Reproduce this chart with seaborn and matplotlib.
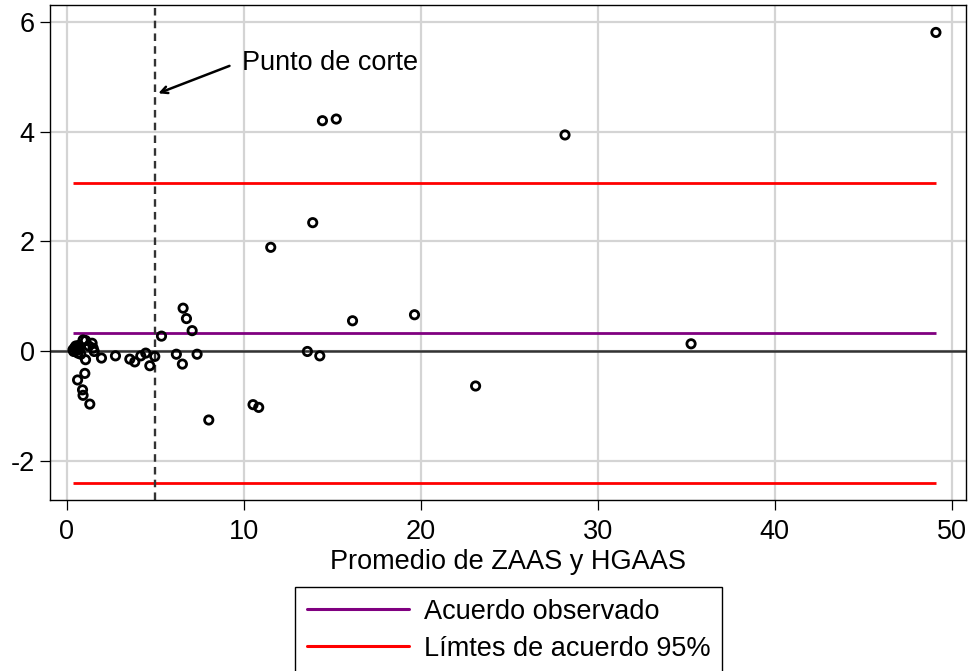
import numpy as np
import pandas as pd
import matplotlib
matplotlib.use("Agg")
import matplotlib.pyplot as plt
import seaborn as sns

# Bland-Altman data: mean of ZAAS and HGAAS vs difference
promedio = [49.10, 28.15, 35.27, 14.45, 15.23, 13.90, 11.53, 16.15, 19.65, 13.60,
            14.30, 23.10, 10.53, 10.85, 8.03, 6.58, 6.77, 7.09, 5.36, 6.20,
            6.54, 7.37, 4.98, 4.70, 4.47, 4.19, 3.85, 3.57, 2.76, 1.97,
            1.56, 1.44, 1.07, 0.93, 1.07, 1.03, 0.62, 0.90, 0.93, 1.31,
            0.36, 0.40, 0.46, 0.52, 0.57, 0.64, 0.72, 0.80, 0.68, 1.25,
            1.50]
diferencia = [5.81, 3.94, 0.13, 4.20, 4.23, 2.34, 1.89, 0.55, 0.66, -0.01,
              -0.09, -0.64, -0.98, -1.03, -1.26, 0.78, 0.59, 0.37, 0.27, -0.06,
              -0.24, -0.06, -0.10, -0.27, -0.04, -0.09, -0.20, -0.15, -0.09, -0.13,
              -0.01, 0.14, 0.19, 0.20, -0.16, -0.41, -0.53, -0.71, -0.81, -0.97,
              0.02, -0.01, 0.06, 0.09, 0.01, -0.04, 0.03, -0.06, 0.10, 0.09,
              0.05]

acuerdo_medio = 0.33
limites = [3.07, -2.41]
punto_corte = 5

x_ticks = [0, 10, 20, 30, 40, 50]
y_ticks = [-2, 0, 2, 4, 6]

df = pd.DataFrame({"promedio": promedio, "diferencia": diferencia})

sns.set_theme(style="white")
plt.rcParams["font.family"] = ["Liberation Sans", "DejaVu Sans"]
plt.rcParams["axes.unicode_minus"] = False
plt.rcParams["text.color"] = "black"
plt.rcParams["axes.labelcolor"] = "black"
plt.rcParams["xtick.color"] = "black"
plt.rcParams["ytick.color"] = "black"

fs = 19.5

fig = plt.figure(figsize=(9.7, 6.71), dpi=100)
ax = fig.add_axes([0.0515, 0.2548, 0.9444, 0.7377])

# grid
for t in x_ticks:
    ax.axvline(t, color="#d4d4d4", lw=1.6, zorder=0)
for t in y_ticks:
    ax.axhline(t, color="#d4d4d4", lw=1.6, zorder=0)

ax.axhline(0, color="#333333", lw=1.8, zorder=1)

xmin, xmax = df["promedio"].min(), df["promedio"].max()
ax.hlines(acuerdo_medio, xmin, xmax, color="#800080", lw=2.0, zorder=2)
ax.hlines(limites, xmin, xmax, color="#ff0000", lw=2.0, zorder=2)

ax.axvline(punto_corte, color="#333333", lw=1.7, ls=(0, (3.2, 2.2)), zorder=2)

sns.scatterplot(data=df, x="promedio", y="diferencia", ax=ax, marker="o",
                s=36, facecolor="none", edgecolor="black", linewidth=2.0,
                zorder=3, legend=False)

ax.annotate("", xy=(5.18, 4.70), xytext=(9.2, 5.2),
            arrowprops=dict(arrowstyle="->", color="black", lw=1.8,
                            shrinkA=0, shrinkB=0))
ax.text(9.89, 5.26, "Punto de corte", fontsize=fs, va="center", ha="left")

ax.set_xlim(-0.94, 50.8)
ax.set_ylim(-2.72, 6.31)
ax.set_xticks(x_ticks)
ax.set_yticks(y_ticks)
ax.tick_params(axis="both", direction="out", length=7, width=0.9,
               color="black", labelsize=fs, pad=4, bottom=True, left=True)
ax.tick_params(axis="x", pad=6.5)
for s in ax.spines.values():
    s.set_color("black")
    s.set_linewidth(1.0)

ax.set_xlabel("Promedio de ZAAS y HGAAS", fontsize=fs, labelpad=3)
ax.set_ylabel("")

h1 = plt.Line2D([], [], color="#800080", lw=2.2)
h2 = plt.Line2D([], [], color="#ff0000", lw=2.2)
leg = fig.legend([h1, h2], ["Acuerdo observado", "Límtes de acuerdo 95%"],
                 loc="upper left", bbox_to_anchor=(0.304, 0.1256),
                 fontsize=fs, frameon=True, fancybox=False, framealpha=1,
                 edgecolor="black", handlelength=3.75, handletextpad=0.55,
                 borderpad=0.45, labelspacing=0.4, borderaxespad=0)
leg.get_frame().set_linewidth(1.0)

fig.savefig("out.png", dpi=100)
